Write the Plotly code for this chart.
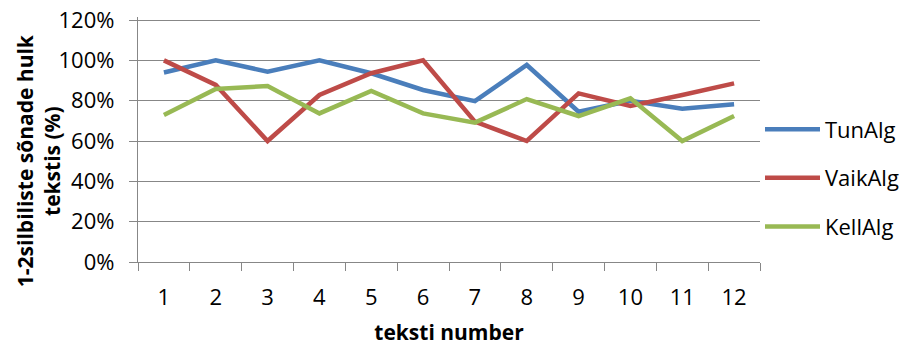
import plotly.graph_objects as go

categories = ["1", "2", "3", "4", "5", "6", "7", "8", "9", "10", "11", "12"]
tun_alg = [0.94, 1.00, 0.944, 1.00, 0.936, 0.853, 0.798, 0.977, 0.745, 0.80, 0.76, 0.782]
vaik_alg = [1.00, 0.878, 0.60, 0.828, 0.936, 1.00, 0.696, 0.60, 0.836, 0.774, 0.828, 0.886]
kell_alg = [0.729, 0.858, 0.873, 0.737, 0.848, 0.737, 0.691, 0.808, 0.724, 0.812, 0.60, 0.724]
y_ticks = [0, 0.2, 0.4, 0.6, 0.8, 1.0, 1.2]

series = [
    ("TunAlg", tun_alg, "#4A7EBB"),
    ("VaikAlg", vaik_alg, "#BE4B48"),
    ("KellAlg", kell_alg, "#98B954"),
]

FONT = "Open Sans"
GRID = "#878787"

fig = go.Figure()
for i, (name, vals, color) in enumerate(series):
    fig.add_trace(go.Scatter(
        x=categories, y=vals, name=name, mode="lines",
        line=dict(color=color, width=4.5),
        legendgroup=f"g{i}",
    ))

fig.update_layout(
    width=905, height=350,
    margin=dict(l=138, r=145, t=17, b=88, autoexpand=False),
    paper_bgcolor="white", plot_bgcolor="white",
    font=dict(family=FONT, size=22, color="#000000"),
    showlegend=True,
    legend=dict(
        x=1.0, xanchor="left", y=0.343, yanchor="middle",
        font=dict(family=FONT, size=22, color="#000000"),
        tracegroupgap=17, traceorder="grouped",
        bgcolor="rgba(0,0,0,0)", itemwidth=55,
    ),
    xaxis=dict(
        type="category", range=[-0.5, 11.5], automargin=False,
        tickson="boundaries", ticks="outside", ticklen=8, tickcolor=GRID, tickwidth=1.3,
        showline=True, linecolor=GRID, linewidth=1.3,
        showgrid=False, zeroline=False,
        ticklabelstandoff=15,
        title=dict(text="<b>teksti number</b>", font=dict(family=FONT, size=21), standoff=15),
    ),
    yaxis=dict(
        range=[0, 1.215], tickvals=y_ticks, tickformat=".0%", automargin=False,
        ticks="outside", ticklen=8, tickcolor=GRID, tickwidth=1.3,
        showline=True, linecolor=GRID, linewidth=1.3,
        showgrid=True, gridcolor=GRID, gridwidth=1.3, zeroline=False,
        ticklabelstandoff=10, ticklabeloverflow="allow",
    ),
    annotations=[dict(
        text="<b>1-2silbiliste sõnade hulk<br>tekstis (%)</b>",
        textangle=-90, xref="paper", yref="paper",
        x=-0.161, y=0.415, xanchor="center", yanchor="middle",
        showarrow=False, font=dict(family=FONT, size=21, color="#000000"),
    )],
)

# remove the browser's default 8px body margin so the figure fills the window
fig.write_html(
    "out.html",
    config={"displayModeBar": False},
    post_script="document.body.style.margin='0';",
)
